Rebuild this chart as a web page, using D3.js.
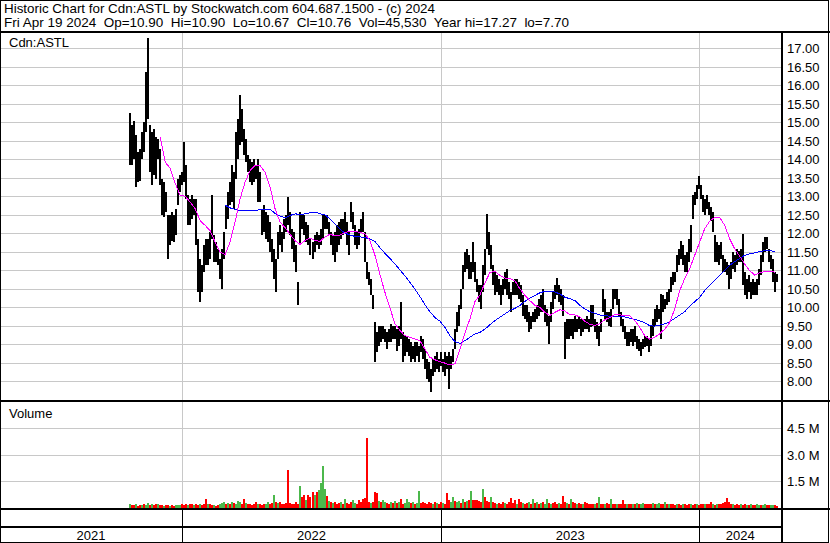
<!DOCTYPE html>
<html><head><meta charset="utf-8">
<script src="https://cdn.jsdelivr.net/npm/d3@7"></script>
<style>
html,body{margin:0;padding:0;background:#fff;}
svg{display:block;font-family:"Liberation Sans",Arial,sans-serif;}
</style>
</head><body>
<svg id="c" width="830" height="543"></svg>
<script>
// ---------------- DATA ----------------
const titleText = "Historic Chart for Cdn:ASTL by Stockwatch.com 604.687.1500 - (c) 2024";
const subtitleText = "Fri Apr 19 2024  Op=10.90  Hi=10.90  Lo=10.67  Cl=10.76  Vol=45,530  Year hi=17.27  lo=7.70";
const symbolLabel = "Cdn:ASTL";
const volumeLabel = "Volume";
const priceTicks = [8.0,8.5,9.0,9.5,10.0,10.5,11.0,11.5,12.0,12.5,13.0,13.5,14.0,14.5,15.0,15.5,16.0,16.5,17.0];
const volTicks = [1.5,3.0,4.5];
const volTickLabels = ["1.5 M","3.0 M","4.5 M"];
const yearLabels = ["2021","2022","2023","2024"];

// price bars: evenly sampled (about every 2 trading days) from barStart to barEnd
const barStart = "2021-10-20", barEnd = "2024-04-19";
const highs = [
15.24,14.91,15.04,14.64,14.19,14.28,14.73,15.00,16.35,17.27,
14.91,14.73,14.82,14.60,14.55,14.28,13.47,13.38,13.11,12.48,
12.48,12.57,12.48,12.66,13.47,13.56,13.65,14.46,13.83,13.02,
12.93,13.02,12.93,12.93,11.85,11.31,11.13,11.67,11.85,11.85,
12.03,13.02,11.94,11.76,11.58,11.31,11.58,12.03,12.75,13.11,
13.38,13.83,13.65,14.73,15.09,15.72,15.36,14.82,14.55,14.10,
14.01,13.92,14.01,13.83,14.01,13.65,12.66,12.75,12.57,12.48,
12.30,11.85,11.58,11.31,12.03,12.21,12.03,12.39,12.48,12.97,
12.57,12.12,12.03,11.67,10.68,12.57,12.52,12.48,12.30,12.21,
11.85,11.76,11.94,12.03,11.94,12.12,12.48,12.48,12.48,12.30,
12.03,11.94,12.03,12.21,12.30,12.39,12.39,12.57,12.30,12.03,
12.84,12.57,12.21,12.03,12.12,12.39,12.57,12.03,11.22,10.95,
10.77,10.32,9.59,9.32,9.50,9.50,9.50,9.41,9.32,9.41,
9.55,9.50,9.50,9.41,9.50,10.15,9.32,9.23,9.23,9.14,
9.05,8.96,9.05,9.05,8.96,9.23,9.14,8.87,8.60,8.51,
8.33,8.60,8.69,8.78,8.60,8.78,8.60,8.78,8.69,8.78,
8.69,8.87,9.41,9.86,10.05,10.50,11.13,11.49,11.58,11.40,
11.22,11.76,11.22,10.77,10.59,10.59,11.13,11.58,12.52,12.03,
11.67,11.13,10.95,10.86,10.77,10.59,10.77,10.95,11.04,10.68,
10.41,10.68,10.77,10.77,10.68,10.59,10.32,10.05,10.05,9.86,
9.77,9.86,9.95,10.05,10.23,10.32,10.50,10.05,9.95,9.77,
10.14,10.41,10.59,10.79,10.59,10.50,10.32,9.59,9.68,9.68,
9.68,9.68,9.77,9.68,9.77,9.68,9.68,9.68,9.77,9.68,
10.05,10.05,9.68,9.59,9.50,9.68,10.50,10.23,9.86,9.86,
9.95,10.50,10.50,10.50,10.23,9.86,9.68,9.50,9.32,9.32,
9.41,9.41,9.50,9.23,9.14,9.05,9.14,9.23,9.23,9.14,
9.50,9.68,9.95,10.05,9.95,10.36,10.32,10.23,10.41,10.50,
10.81,10.95,10.95,11.40,11.58,11.80,11.67,11.40,11.49,11.85,
12.21,13.02,13.11,13.29,13.54,13.29,13.02,12.93,13.02,12.84,
12.70,12.57,11.94,11.76,11.67,11.76,11.40,11.31,11.22,11.13,
11.22,11.49,11.40,11.58,11.53,11.58,11.98,10.95,10.77,10.86,
10.68,10.77,10.68,10.77,11.04,11.40,11.76,11.89,11.89,11.58,
11.40,11.31,10.95,10.90];
const lows = [
13.83,13.83,14.01,13.24,13.38,13.42,14.01,14.19,14.73,15.09,
13.65,13.29,13.56,13.47,14.01,13.29,12.48,12.43,12.57,11.31,
11.67,11.80,11.76,11.94,12.75,13.11,13.29,13.38,12.93,12.21,
12.21,12.39,12.48,11.67,10.41,10.14,10.41,10.95,11.13,11.13,
11.31,11.85,11.22,11.22,11.13,10.77,10.50,11.31,12.12,12.39,
12.75,12.84,12.66,13.47,14.01,14.37,14.46,14.10,13.92,13.65,
13.38,13.29,13.38,13.47,12.84,12.84,11.94,12.03,11.85,11.76,
11.49,11.22,10.77,10.41,11.31,11.67,11.49,11.85,12.03,12.21,
11.94,11.58,11.22,10.95,10.05,11.67,12.12,11.94,11.76,11.67,
11.40,11.31,11.49,11.67,11.58,11.67,11.85,12.12,12.12,11.94,
11.67,11.40,11.22,11.49,11.67,11.85,11.94,12.03,11.67,11.40,
12.30,12.12,11.67,11.58,11.67,12.03,12.03,11.22,10.77,10.59,
10.32,9.96,8.51,8.78,8.96,9.05,9.14,9.05,8.87,9.05,
9.05,9.14,9.14,8.83,8.96,9.14,8.51,8.69,8.78,8.69,
8.51,8.60,8.51,8.69,8.51,8.78,8.60,8.33,8.06,7.97,
7.70,8.15,8.24,8.33,8.24,8.42,8.24,8.15,8.33,7.79,
8.33,8.51,8.87,9.32,9.50,9.95,10.50,10.95,11.04,10.77,
10.77,10.95,10.68,10.41,10.14,9.95,10.41,10.86,11.58,11.40,
11.04,10.59,10.32,10.41,10.32,10.05,10.32,10.50,10.32,10.23,
9.86,10.32,10.32,10.32,10.23,10.14,9.77,9.68,9.59,9.32,
9.41,9.59,9.59,9.68,9.77,9.86,9.86,9.59,9.50,9.01,
9.59,9.95,10.23,10.32,10.14,10.05,9.77,8.60,9.14,9.14,
9.23,9.14,9.32,9.32,9.41,9.23,9.32,9.41,9.41,9.32,
9.46,9.50,9.32,9.14,8.96,9.32,9.86,9.68,9.59,9.50,
9.46,9.95,10.23,10.05,9.77,9.50,9.32,9.14,8.96,8.96,
9.05,8.96,9.05,8.87,8.83,8.69,8.87,8.92,8.96,8.78,
8.96,9.23,9.50,9.59,9.68,9.14,9.86,9.95,10.05,10.14,
10.41,10.59,10.68,10.95,11.13,11.31,11.13,10.95,10.95,11.22,
11.49,12.39,12.75,12.93,13.20,12.93,12.57,12.48,12.66,12.48,
12.34,12.03,11.22,11.22,11.13,11.31,10.95,10.95,10.86,10.50,
10.77,11.04,10.95,11.13,11.22,11.22,10.59,10.32,10.23,10.41,
10.23,10.32,10.32,10.32,10.59,10.86,11.22,11.49,11.58,11.22,
11.04,10.68,10.41,10.67];

// volume (millions) for the same samples, and up (g) / down (r) flag
const volumes = [
0.20,0.12,0.10,0.15,0.08,0.12,0.10,0.18,0.14,0.22,
0.12,0.18,0.10,0.15,0.20,0.12,0.10,0.08,0.12,0.10,
0.08,0.10,0.06,0.12,0.10,0.12,0.15,0.10,0.20,0.10,
0.15,0.20,0.12,0.15,0.10,0.20,0.12,0.18,0.46,0.15,
0.20,0.10,0.12,0.08,0.10,0.15,0.22,0.30,0.18,0.25,
0.20,0.30,0.25,0.18,0.35,0.30,0.20,0.45,0.25,0.15,
0.20,0.12,0.18,0.30,0.15,0.20,0.10,0.15,0.20,0.30,
0.20,0.25,0.69,0.30,0.25,0.30,0.20,0.18,0.25,2.13,
0.25,0.20,0.18,0.30,0.20,1.19,0.60,0.71,0.40,0.67,
0.60,0.85,0.70,0.85,0.96,1.38,2.37,1.04,0.65,0.35,
0.30,0.25,0.30,0.20,0.25,0.30,0.20,0.45,0.25,0.20,
0.30,0.40,0.25,0.20,0.40,0.30,0.45,0.50,3.92,0.30,
0.25,0.30,0.87,0.80,0.35,0.30,0.40,0.30,0.25,0.20,
0.30,0.25,0.35,0.25,0.30,0.45,0.20,0.25,0.45,0.30,
0.25,0.30,0.20,0.25,0.92,0.25,0.30,0.25,0.20,0.30,
0.25,0.20,0.30,0.25,0.20,0.30,0.25,0.20,0.81,0.40,
0.30,0.60,0.35,0.30,0.35,0.25,0.45,0.30,0.35,0.40,
0.92,0.40,0.40,0.40,0.35,0.30,1.04,0.55,0.35,0.30,
0.55,0.30,0.25,0.20,0.25,0.20,0.30,0.25,0.20,0.30,
0.50,0.25,0.40,0.20,0.45,0.30,0.25,0.20,0.25,0.30,
0.20,0.45,0.25,0.30,0.20,0.25,0.30,0.20,0.45,0.25,
0.20,0.25,0.30,0.20,0.25,0.20,0.63,0.30,0.25,0.20,
0.45,0.30,0.25,0.20,0.25,0.20,0.20,0.30,0.25,0.20,
0.20,0.15,0.20,0.25,0.58,0.20,0.15,0.20,0.25,0.20,
0.46,0.20,0.15,0.20,0.15,0.20,0.40,0.15,0.20,0.15,
0.20,0.15,0.20,0.25,0.15,0.20,0.25,0.15,0.20,0.15,
0.15,0.25,0.20,0.15,0.25,0.20,0.15,0.30,0.20,0.15,
0.20,0.15,0.12,0.20,0.15,0.12,0.18,0.15,0.12,0.20,
0.15,0.12,0.15,0.20,0.12,0.15,0.18,0.15,0.20,0.15,
0.30,0.15,0.12,0.20,0.15,0.18,0.25,0.30,0.52,0.30,
0.20,0.15,0.12,0.18,0.12,0.15,0.10,0.15,0.12,0.10,
0.15,0.12,0.10,0.15,0.12,0.10,0.12,0.15,0.12,0.10,
0.12,0.10,0.12,0.05];
const volDir =
"grrgrrgrgg"+"rgrrgrrgrr"+"grrgggrrrg"+"rrgrrgrrrg"+"rrgrrgggrg"+
"rgrgggrrgr"+"rrrrgrrrgg"+"rrgrgrrrrr"+"rrrrrgrrgr"+"rrgrggggrg"+
"rgrrrgrgrr"+"rggrrrrrrr"+"grrrgrggrr"+"grgrgrrggg"+"rgrggrrrrr"+
"rgrgrrgrrr"+"ggrggrgrgr"+"grrrrrgrrr"+"grrgrrrgrr"+"rrrgrrgrrg"+
"rgrgrgrggr"+"grrrgrrrgr"+"grrgrrgrrr"+"rrgrgrrgrr"+"grrgrrrrgr"+
"rgrgrggrrr"+"rgrggrrgrg"+"rrrgrrgrrr"+"grrgrrrgrr"+"rgrgrrrrrr"+
"rgrrrgrrgr"+"grrggrggrr"+"ggrr";

// short moving average (magenta), weekly readings
const maShortStart = "2021-12-01", maShortEnd = "2024-04-16";
const maShort = [
14.60,13.92,13.75,13.35,13.02,13.00,12.84,12.66,12.34,12.21,
12.07,11.76,11.49,11.42,11.76,12.30,12.93,13.38,13.69,13.83,
13.82,13.65,13.25,12.66,12.30,12.15,11.97,11.80,11.70,11.80,
11.87,11.80,11.78,11.90,11.97,11.93,11.95,12.02,12.05,12.05,
12.02,11.98,11.80,11.40,10.88,10.40,9.98,9.55,9.37,9.23,
9.19,9.14,9.10,8.87,8.65,8.58,8.53,8.49,8.44,8.47,
8.85,9.30,9.68,10.15,10.33,10.65,10.94,10.97,10.86,10.79,
10.77,10.72,10.50,10.32,10.18,10.05,10.00,9.86,9.78,9.86,
9.93,9.90,9.80,9.79,9.74,9.62,9.54,9.51,9.55,9.66,
9.72,9.80,9.80,9.77,9.77,9.64,9.46,9.23,9.14,9.19,
9.28,9.41,9.59,9.95,10.45,10.77,11.04,11.40,11.76,12.12,
12.32,12.43,12.43,12.21,11.85,11.58,11.38,11.17,10.99,10.87,
10.93,10.96,10.96,10.95];
// long moving average (blue), weekly readings
const maLongStart = "2022-03-03", maLongEnd = "2024-04-16";
const maLong = [
12.75,12.68,12.64,12.60,12.61,12.62,12.62,12.63,12.65,12.64,
12.53,12.46,12.42,12.48,12.52,12.51,12.52,12.55,12.57,12.52,
12.49,12.38,12.24,12.10,12.00,11.95,11.91,11.90,11.88,11.84,
11.77,11.60,11.45,11.31,11.16,11.00,10.84,10.66,10.48,10.28,
10.06,9.87,9.72,9.62,9.45,9.22,9.07,9.02,9.10,9.19,
9.28,9.32,9.41,9.53,9.64,9.73,9.82,9.91,9.97,10.05,
10.16,10.25,10.32,10.39,10.43,10.43,10.41,10.36,10.27,10.23,
10.18,10.05,9.95,9.88,9.84,9.79,9.77,9.76,9.76,9.76,
9.74,9.70,9.67,9.63,9.58,9.50,9.49,9.52,9.55,9.61,
9.70,9.79,9.88,10.03,10.15,10.27,10.45,10.59,10.72,10.86,
10.99,11.13,11.23,11.32,11.40,11.44,11.47,11.50,11.53,11.53,
11.50];

// ---------------- DRAW ----------------
const parse = d3.timeParse("%Y-%m-%d");
const svg = d3.select("#c");
const W = 830, H = 543;
const RX = 781;              // right edge of plot area (axis line)
const PT = 32, PB = 401;     // price panel
const VT = 402, VB = 508;    // volume panel

const x = d3.scaleTime().domain([new Date(2021,3,19), new Date(2024,3,25)]).range([0, RX]);
const y = d3.scaleLinear().domain([7.5, 17.5]).range([399.8, 29.5]);
const yv = d3.scaleLinear().domain([0, 6]).range([507, 402]);

// evenly spaced sample dates between a start and an end date
function evenDates(s, e, n) {
  const a = +parse(s), b = +parse(e);
  return d3.range(n).map(i => new Date(a + (b - a) * i / (n - 1)));
}
const barDates = evenDates(barStart, barEnd, highs.length);
const bars = barDates.map((d, i) => ({d, hi: highs[i], lo: lows[i], v: volumes[i], up: volDir[i] === "g"}));
const maS = evenDates(maShortStart, maShortEnd, maShort.length).map((d, i) => ({d, v: maShort[i]}));
const maL = evenDates(maLongStart, maLongEnd, maLong.length).map((d, i) => ({d, v: maLong[i]}));

svg.append("rect").attr("width", W).attr("height", H).attr("fill", "#fff");

const grid = svg.append("g").attr("stroke", "#c8c8c8").attr("stroke-width", 1).attr("shape-rendering", "crispEdges");
grid.selectAll("line.hp").data(priceTicks).join("line")
  .attr("x1", 1).attr("x2", RX).attr("y1", d => Math.round(y(d)) + 0.5).attr("y2", d => Math.round(y(d)) + 0.5);
grid.selectAll("line.hv").data(volTicks).join("line")
  .attr("x1", 1).attr("x2", RX).attr("y1", d => Math.round(yv(d)) + 0.5).attr("y2", d => Math.round(yv(d)) + 0.5);
const yearStarts = [new Date(2022,0,1), new Date(2023,0,1), new Date(2024,0,1)];
yearStarts.forEach(d => {
  const xx = Math.round(x(d)) + 0.5;
  grid.append("line").attr("x1", xx).attr("x2", xx).attr("y1", PT).attr("y2", PB);
  grid.append("line").attr("x1", xx).attr("x2", xx).attr("y1", VT).attr("y2", VB);
});

// price bars
svg.append("g").attr("shape-rendering", "crispEdges").selectAll("rect").data(bars).join("rect")
  .attr("x", d => Math.round(x(d.d)) - 1).attr("width", 2)
  .attr("y", d => Math.round(y(d.hi)))
  .attr("height", d => Math.max(1, Math.round(y(d.lo)) - Math.round(y(d.hi))))
  .attr("fill", "#000");

// moving averages (aliased, like the original)
const line = d3.line().x(d => x(d.d)).y(d => y(d.v));
svg.append("path").datum(maL).attr("d", line).attr("fill", "none").attr("stroke", "#0000ff")
  .attr("stroke-width", 1).attr("shape-rendering", "crispEdges");
svg.append("path").datum(maS).attr("d", line).attr("fill", "none").attr("stroke", "#ff00ff")
  .attr("stroke-width", 1).attr("shape-rendering", "crispEdges");

// volume bars
svg.append("g").attr("shape-rendering", "crispEdges").selectAll("rect").data(bars).join("rect")
  .attr("x", d => Math.round(x(d.d)) - 1).attr("width", 2)
  .attr("y", d => Math.round(yv(d.v)))
  .attr("height", d => VB - Math.round(yv(d.v)))
  .attr("fill", d => d.up ? "#4cb84c" : "#ff0000");

// frame lines
const frame = svg.append("g").attr("stroke", "#000").attr("shape-rendering", "crispEdges");
frame.append("rect").attr("x", 0.5).attr("y", 0.5).attr("width", W - 2).attr("height", H - 1).attr("fill", "none");
frame.append("line").attr("x1", 0).attr("x2", W).attr("y1", 31.5).attr("y2", 31.5).attr("stroke-width", 2);
frame.append("line").attr("x1", RX + 0.5).attr("x2", RX + 0.5).attr("y1", 31).attr("y2", H).attr("stroke-width", 2);
frame.append("line").attr("x1", 0).attr("x2", W).attr("y1", 401).attr("y2", 401).attr("stroke-width", 2);
frame.append("line").attr("x1", 0).attr("x2", W).attr("y1", 509).attr("y2", 509).attr("stroke-width", 2);
frame.append("line").attr("x1", 0).attr("x2", RX).attr("y1", 527).attr("y2", 527).attr("stroke-width", 2);
yearStarts.forEach(d => {
  const xx = Math.round(x(d)) + 0.5;
  frame.append("line").attr("x1", xx).attr("x2", xx).attr("y1", 510).attr("y2", H);
});

// texts
const txt = svg.append("g").attr("fill", "#000").style("font-size", "13px");
txt.append("text").attr("x", 4).attr("y", 13).attr("textLength", 431).attr("lengthAdjust", "spacingAndGlyphs").text(titleText);
txt.append("text").attr("x", 4).attr("y", 27).style("white-space", "pre").attr("textLength", 565).attr("lengthAdjust", "spacingAndGlyphs").text(subtitleText);
txt.append("text").attr("x", 9).attr("y", 47).text(symbolLabel);
txt.append("text").attr("x", 9).attr("y", 418).text(volumeLabel);
txt.selectAll("text.pt").data(priceTicks).join("text")
  .attr("x", 787).attr("y", d => y(d) + 5).text(d => d.toFixed(2));
txt.selectAll("text.vt").data(volTicks).join("text")
  .attr("x", 787).attr("y", d => yv(d) + 5).text((d, i) => volTickLabels[i]);
const bounds = [0, ...yearStarts.map(d => x(d)), RX];
txt.selectAll("text.yr").data(yearLabels).join("text")
  .attr("x", (d, i) => (bounds[i] + bounds[i + 1]) / 2).attr("y", 540)
  .attr("text-anchor", "middle").text(d => d);
</script>
</body></html>
